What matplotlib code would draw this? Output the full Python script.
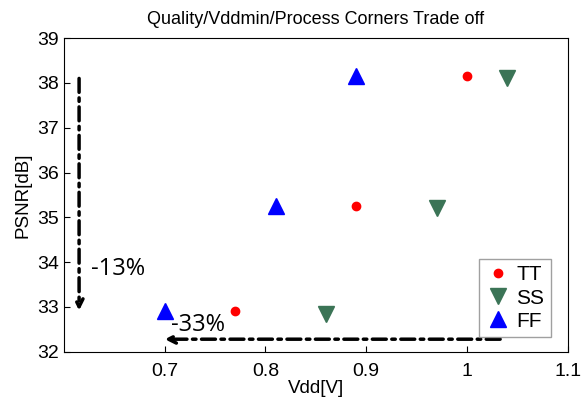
import matplotlib.pyplot as plt

plt.rcParams['font.family'] = ['Liberation Sans', 'DejaVu Sans']

vdd_tt = [0.77, 0.89, 1.0]
psnr_tt = [32.9, 35.25, 38.15]
vdd_ss = [0.86, 0.97, 1.04]
psnr_ss = [32.85, 35.2, 38.1]
vdd_ff = [0.70, 0.81, 0.89]
psnr_ff = [32.9, 35.25, 38.15]

xticks = [0.7, 0.8, 0.9, 1.0, 1.1]
xtick_labels = ['0.7', '0.8', '0.9', '1', '1.1']
yticks = [32, 33, 34, 35, 36, 37, 38, 39]

fig = plt.figure(figsize=(5.87, 3.97), dpi=100)
ax = fig.add_axes([0.109, 0.114, 0.858, 0.79])

ax.plot(vdd_tt, psnr_tt, 'o', color='#ff0000', markersize=6, label='TT')
ax.plot(vdd_ss, psnr_ss, 'v', color='#3b7456', markersize=11, label='SS')
ax.plot(vdd_ff, psnr_ff, '^', color='#0000ff', markersize=11, label='FF')

# trade-off arrows
dashdot = (0, (4, 1.6, 1, 1.6))
ax.annotate('', xy=(0.615, 32.92), xytext=(0.615, 38.1),
            arrowprops=dict(arrowstyle='->', color='black', lw=2.5, linestyle=dashdot,
                            mutation_scale=14, shrinkA=0, shrinkB=0))
ax.annotate('', xy=(0.70, 32.28), xytext=(1.033, 32.28),
            arrowprops=dict(arrowstyle='->', color='black', lw=2.5, linestyle=dashdot,
                            mutation_scale=14, shrinkA=0, shrinkB=0))
ax.text(0.627, 33.85, '-13%', fontsize=17, va='center', ha='left', family=['Open Sans', 'DejaVu Sans'])
ax.text(0.706, 32.6, '-33%', fontsize=17, va='center', ha='left', family=['Open Sans', 'DejaVu Sans'])

ax.set_xlim(0.6, 1.1)
ax.set_ylim(32, 39)
ax.set_xticks(xticks)
ax.set_xticklabels(xtick_labels)
ax.set_yticks(yticks)
ax.tick_params(direction='in', labelsize=14, length=4)
ax.tick_params(axis='x', pad=8)
ax.set_xlabel('Vdd[V]', fontsize=13.5, labelpad=0)
ax.set_ylabel('PSNR[dB]', fontsize=13.5, labelpad=4)
ax.set_title('Quality/Vddmin/Process Corners Trade off', fontsize=13, pad=10)
leg = ax.legend(loc='lower right', bbox_to_anchor=(0.966, 0.047), fontsize=15, frameon=True,
                fancybox=False, edgecolor='#888888', handletextpad=0.3, borderpad=0.3,
                labelspacing=0.2, handlelength=1.2, borderaxespad=0)
leg.get_frame().set_linewidth(1)

fig.savefig('out.png', dpi=100)
